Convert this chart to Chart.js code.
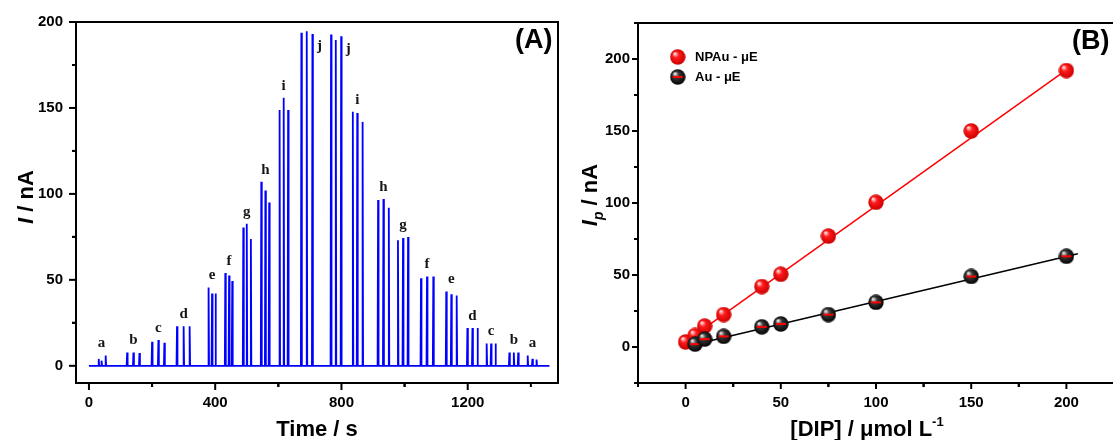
<!DOCTYPE html>
<html>
<head>
<meta charset="utf-8">
<script src="https://cdn.jsdelivr.net/npm/chart.js"></script>
<style>
html, body { margin: 0; padding: 0; background: #fff; overflow: hidden; width: 1113px; height: 440px; }
canvas { position: absolute; top: 0; }
</style>
</head>
<body>
<canvas id="chartA" width="570" height="440" style="left:0"></canvas>
<canvas id="chartB" width="580" height="440" style="left:560px"></canvas>

<script>
/* ---------------- DATA ---------------- */
// (A) injection peaks, three per concentration: time (s) and height (nA)
const peakTimes = [31, 40, 53, 121, 141, 160, 200, 220, 239, 279, 300, 319,
  379, 390, 401, 432, 444, 454, 489, 500, 513, 546, 559, 571, 604, 617, 631,
  673, 690, 708, 767, 782, 799, 836, 850, 867, 916, 933, 950, 979, 995, 1011,
  1052, 1071, 1091, 1132, 1148, 1165, 1199, 1215, 1231, 1260, 1274, 1288,
  1332, 1346, 1360, 1390, 1405, 1418];
const peakHeights = [4, 3, 6, 7.7, 7.7, 7.5, 14, 15, 13.4, 23, 23, 23,
  45.5, 42, 42, 54, 52.6, 49.4, 80.4, 82.6, 73.8, 107, 102, 95, 148.8, 156, 148.8,
  193.8, 194.6, 193, 192.8, 189.5, 191.7, 147.8, 147, 141.9, 96.5, 97, 92, 73, 74.4, 75,
  51, 52, 52, 43.2, 41.6, 40.9, 22, 22, 22, 13, 13, 13,
  7.7, 7.7, 7.7, 6, 4, 3.6];
const groupLabels = ['a', 'b', 'c', 'd', 'e', 'f', 'g', 'h', 'i', 'j',
  'j', 'i', 'h', 'g', 'f', 'e', 'd', 'c', 'b', 'a'];
const traceStart = 0;
const traceEnd = 1459;
const timeTicks = [0, 400, 800, 1200];
const currentTicks = [0, 50, 100, 150, 200];

// (B) calibration: [DIP] (umol/L) vs Ip (nA)
const concNP = [0, 5, 10, 20, 40, 50, 75, 100, 150, 200];
const ipNP = [3.5, 8, 14.5, 22.5, 42, 50.5, 77, 100.5, 150, 192];
const concAu = [5, 10, 20, 40, 50, 75, 100, 150, 200];
const ipAu = [2, 5.5, 7.4, 14, 16, 22.5, 31, 49, 63];
const fitNPx = [0, 200];
const fitNPy = [3.7, 192.5];
const fitAux = [3, 206];
const fitAuy = [1.2, 64.8];
const concTicks = [0, 50, 100, 150, 200];
const ipTicks = [0, 50, 100, 150, 200];

/* ---------------- HELPERS ---------------- */
const SANS = '"Liberation Sans", Arial, sans-serif';
const tickFont = { family: SANS, size: 15, weight: 'bold' };
const plainLabel = v => String(v);

function pts(xs, ys) {
  return xs.map((v, i) => ({ x: v, y: ys[i] }));
}

function sphere(shine, body, edge, errBar) {
  const r = 8;
  const c = document.createElement('canvas');
  c.width = c.height = 2 * r;
  const g = c.getContext('2d');
  const grad = g.createRadialGradient(r - 3, r - 3.5, 0.5, r, r, r);
  grad.addColorStop(0, shine);
  grad.addColorStop(0.35, body);
  grad.addColorStop(1, edge);
  g.fillStyle = grad;
  g.beginPath();
  g.arc(r, r, r - 0.3, 0, Math.PI * 2);
  g.fill();
  if (errBar) {
    g.fillStyle = '#ff0000';
    g.fillRect(r - 5, r - 1, 10, 2);
  }
  return c;
}
const redBall = sphere('#ffe4e4', '#ff1a1a', '#c80000', false);
const blackBall = sphere('#e8e8e8', '#3a3a3a', '#000000', true);

function richText(ctx, parts, cx, cy, rot) {
  ctx.save();
  ctx.translate(cx, cy);
  ctx.rotate(rot || 0);
  ctx.textAlign = 'left';
  ctx.textBaseline = 'alphabetic';
  ctx.fillStyle = '#000';
  let w = 0;
  parts.forEach(p => { ctx.font = p.font; w += ctx.measureText(p.t).width; });
  let xp = -w / 2;
  parts.forEach(p => {
    ctx.font = p.font;
    ctx.fillText(p.t, xp, p.dy || 0);
    xp += ctx.measureText(p.t).width;
  });
  ctx.restore();
}

// frame + outward major / minor ticks
function drawFrame(chart, majX, majY, tl) {
  const { ctx, chartArea: a, scales: { x, y } } = chart;
  ctx.save();
  ctx.strokeStyle = '#000';
  ctx.lineWidth = 2;
  ctx.strokeRect(a.left, a.top, a.right - a.left, a.bottom - a.top);
  const stepX = majX[1] - majX[0];
  const stepY = majY[1] - majY[0];
  const tickX = (v, len) => {
    if (v < x.min || v > x.max) return;
    const p = x.getPixelForValue(v);
    ctx.beginPath(); ctx.moveTo(p, a.bottom); ctx.lineTo(p, a.bottom + len); ctx.stroke();
  };
  const tickY = (v, len) => {
    if (v < y.min || v > y.max) return;
    const p = y.getPixelForValue(v);
    ctx.beginPath(); ctx.moveTo(a.left, p); ctx.lineTo(a.left - len, p); ctx.stroke();
  };
  majX.forEach(v => { tickX(v, tl[0]); tickX(v + stepX / 2, tl[1]); tickX(v - stepX / 2, tl[1]); });
  majY.forEach(v => { tickY(v, tl[0]); tickY(v + stepY / 2, tl[1]); tickY(v - stepY / 2, tl[1]); });
  ctx.restore();
}

/* ---------------- (A) AMPEROGRAM ---------------- */
const trace = [{ x: traceStart, y: 0 }];
peakTimes.forEach((t, i) => {
  trace.push({ x: t - 1.5, y: 0 }, { x: t, y: peakHeights[i] }, { x: t + 1.5, y: 0 });
});
trace.push({ x: traceEnd, y: 0 });

const panelA = {
  id: 'panelA',
  afterDraw(chart) {
    const { ctx, scales: { x, y } } = chart;
    drawFrame(chart, timeTicks, currentTicks, [7, 4]);

    // concentration letters
    ctx.save();
    ctx.fillStyle = '#151515';
    ctx.font = 'bold 15px "Liberation Serif", "Times New Roman", serif';
    ctx.textAlign = 'center';
    ctx.textBaseline = 'middle';
    groupLabels.forEach((lab, g) => {
      const i = g * 3;
      const hmax = Math.max(peakHeights[i], peakHeights[i + 1], peakHeights[i + 2]);
      if (lab === 'j') {
        ctx.fillText(lab, x.getPixelForValue(peakTimes[i + 2]) + 7, y.getPixelForValue(hmax) + 15);
      } else {
        ctx.fillText(lab, x.getPixelForValue(peakTimes[i + 1]), y.getPixelForValue(hmax) - 12);
      }
    });
    ctx.restore();

    ctx.save();
    ctx.fillStyle = '#000';
    ctx.font = 'bold 27px ' + SANS;
    ctx.textBaseline = 'middle';
    ctx.fillText('(A)', 515, 41);
    ctx.restore();

    const big = 'bold 22px ' + SANS;
    richText(ctx, [{ t: 'Time / s', font: big }], 317, 436);
    richText(ctx, [{ t: 'I', font: 'italic ' + big }, { t: ' / nA', font: big }], 33, 197, -Math.PI / 2);
  }
};

new Chart(document.getElementById('chartA'), {
  type: 'line',
  data: {
    datasets: [{
      data: trace,
      borderColor: '#0000ff',
      borderWidth: 1.8,
      pointRadius: 0,
      tension: 0
    }]
  },
  options: {
    responsive: false,
    animation: false,
    layout: { padding: { left: 0, top: 22, right: 12, bottom: 0 } },
    plugins: { legend: { display: false }, tooltip: { enabled: false } },
    scales: {
      x: {
        type: 'linear',
        min: -41, max: 1486,
        grid: { display: false, drawTicks: false },
        border: { display: false },
        afterBuildTicks: s => { s.ticks = timeTicks.map(v => ({ value: v })); },
        afterFit: s => { s.height = 57; },
        ticks: { font: tickFont, color: '#000', padding: 11, maxRotation: 0, callback: plainLabel }
      },
      y: {
        min: -10, max: 200,
        grid: { display: false, drawTicks: false },
        border: { display: false },
        afterBuildTicks: s => { s.ticks = currentTicks.map(v => ({ value: v })); },
        afterFit: s => { s.width = 76; },
        ticks: { font: tickFont, color: '#000', padding: 13, callback: plainLabel }
      }
    }
  },
  plugins: [panelA]
});

/* ---------------- (B) CALIBRATION ---------------- */
const panelB = {
  id: 'panelB',
  afterDraw(chart) {
    const { ctx } = chart;
    drawFrame(chart, concTicks, ipTicks, [6, 4]);

    // legend inside the plot
    ctx.save();
    ctx.drawImage(redBall, 117.7 - 8, 57 - 8);
    ctx.drawImage(blackBall, 117.7 - 8, 77 - 8);
    ctx.fillStyle = '#000';
    ctx.font = 'bold 13px ' + SANS;
    ctx.textBaseline = 'middle';
    ctx.fillText('NPAu - \u03bcE', 135, 57);
    ctx.fillText('Au - \u03bcE', 135, 77);
    ctx.font = 'bold 27px ' + SANS;
    ctx.fillText('(B)', 512, 42);
    ctx.restore();

    const big = 'bold 22px ' + SANS;
    richText(ctx, [
      { t: '[DIP] / \u03bcmol L', font: big },
      { t: '-1', font: 'bold 13px ' + SANS, dy: -10 }
    ], 307, 436);
    richText(ctx, [
      { t: 'I', font: 'italic ' + big },
      { t: 'p', font: 'italic bold 14px ' + SANS, dy: 6 },
      { t: ' / nA', font: big }
    ], 37, 195, -Math.PI / 2);
  }
};

new Chart(document.getElementById('chartB'), {
  type: 'scatter',
  data: {
    datasets: [
      { data: pts(fitNPx, fitNPy), showLine: true, borderColor: '#ff0000', borderWidth: 1.5, pointRadius: 0, order: 4 },
      { data: pts(fitAux, fitAuy), showLine: true, borderColor: '#000000', borderWidth: 1.5, pointRadius: 0, order: 3 },
      { data: pts(concNP, ipNP), pointStyle: redBall, pointRadius: 8, order: 2 },
      { data: pts(concAu, ipAu), pointStyle: blackBall, pointRadius: 8, order: 1 }
    ]
  },
  options: {
    responsive: false,
    animation: false,
    layout: { padding: { left: 0, top: 23, right: 26, bottom: 0 } },
    plugins: { legend: { display: false }, tooltip: { enabled: false } },
    scales: {
      x: {
        type: 'linear',
        min: -25, max: 225,
        grid: { display: false, drawTicks: false },
        border: { display: false },
        afterBuildTicks: s => { s.ticks = concTicks.map(v => ({ value: v })); },
        afterFit: s => { s.height = 57; },
        ticks: { font: tickFont, color: '#000', padding: 11, maxRotation: 0, callback: plainLabel }
      },
      y: {
        min: -25, max: 225,
        grid: { display: false, drawTicks: false },
        border: { display: false },
        afterBuildTicks: s => { s.ticks = ipTicks.map(v => ({ value: v })); },
        afterFit: s => { s.width = 78; },
        ticks: { font: tickFont, color: '#000', padding: 8, callback: plainLabel }
      }
    }
  },
  plugins: [panelB]
});
</script>
</body>
</html>
